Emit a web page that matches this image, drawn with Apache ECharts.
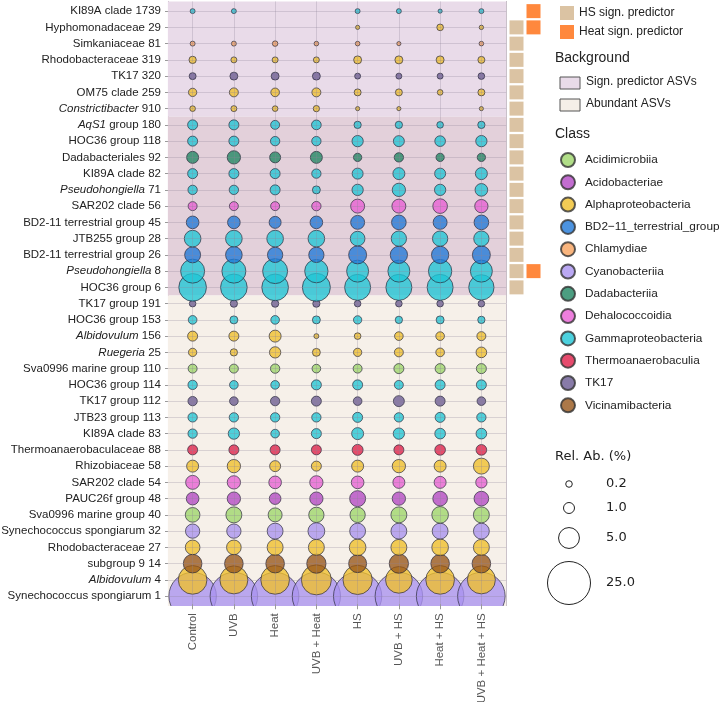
<!DOCTYPE html>
<html>
<head>
<meta charset="utf-8">
<script src="https://cdn.jsdelivr.net/npm/echarts@6/dist/echarts.min.js"></script>
<style>
  html, body { margin: 0; padding: 0; background: #fff; }
  #chart { width: 719px; height: 702px; }
</style>
</head>
<body>
<div id="chart"></div>
<script>
// treatments (x) and ASVs (y, top to bottom)
const treatments = ['Control', 'UVB', 'Heat', 'UVB + Heat', 'HS', 'UVB + HS', 'Heat + HS', 'UVB + Heat + HS'];
const asvs = [
  'KI89A clade 1739', 'Hyphomonadaceae 29', 'Simkaniaceae 81', 'Rhodobacteraceae 319', 'TK17 320',
  'OM75 clade 259', 'Constrictibacter 910', 'AqS1 group 180', 'HOC36 group 118', 'Dadabacteriales 92',
  'KI89A clade 82', 'Pseudohongiella 71', 'SAR202 clade 56', 'BD2-11 terrestrial group 45', 'JTB255 group 28',
  'BD2-11 terrestrial group 26', 'Pseudohongiella 8', 'HOC36 group 6', 'TK17 group 191', 'HOC36 group 153',
  'Albidovulum 156', 'Ruegeria 25', 'Sva0996 marine group 110', 'HOC36 group 114', 'TK17 group 112',
  'JTB23 group 113', 'KI89A clade 83', 'Thermoanaerobaculaceae 88', 'Rhizobiaceae 58', 'SAR202 clade 54',
  'PAUC26f group 48', 'Sva0996 marine group 40', 'Synechococcus spongiarum 32', 'Rhodobacteraceae 27', 'subgroup 9 14',
  'Albidovulum 4', 'Synechococcus spongiarum 1'
];
const italicGenera = ['AqS1', 'Constrictibacter', 'Pseudohongiella', 'Albidovulum', 'Ruegeria'];

const asvClass = [
  'Gammaproteobacteria', 'Alphaproteobacteria', 'Chlamydiae', 'Alphaproteobacteria', 'TK17',
  'Alphaproteobacteria', 'Alphaproteobacteria', 'Gammaproteobacteria', 'Gammaproteobacteria', 'Dadabacteriia',
  'Gammaproteobacteria', 'Gammaproteobacteria', 'Dehalococcoidia', 'BD2\u221211_terrestrial_group', 'Gammaproteobacteria',
  'BD2\u221211_terrestrial_group', 'Gammaproteobacteria', 'Gammaproteobacteria', 'TK17', 'Gammaproteobacteria',
  'Alphaproteobacteria', 'Alphaproteobacteria', 'Acidimicrobiia', 'Gammaproteobacteria', 'TK17',
  'Gammaproteobacteria', 'Gammaproteobacteria', 'Thermoanaerobaculia', 'Alphaproteobacteria', 'Dehalococcoidia',
  'Acidobacteriae', 'Acidimicrobiia', 'Cyanobacteriia', 'Alphaproteobacteria', 'Vicinamibacteria',
  'Alphaproteobacteria', 'Cyanobacteriia'
];

const classNames = ['Acidimicrobiia', 'Acidobacteriae', 'Alphaproteobacteria', 'BD2\u221211_terrestrial_group', 'Chlamydiae',
  'Cyanobacteriia', 'Dadabacteriia', 'Dehalococcoidia', 'Gammaproteobacteria', 'Thermoanaerobaculia', 'TK17', 'Vicinamibacteria'];
const classColors = ['#9ed66a', '#b348c4', '#f0bf2a', '#1f78d8', '#f7a25e',
  '#a992f0', '#1f8662', '#e85fd4', '#1fc6d6', '#e01e48', '#6a5a92', '#97561a'];

// relative abundance (%) per treatment, rows in asvs order; null = absent
const abControl = [0.06, null, 0.06, 0.29, 0.25, 0.44, 0.11, 0.77, 0.77, 1.27, 0.77, 0.63, 0.56, 1.46, 2.92, 2.64, 6.9, 9.5, 0.21, 0.5, 0.77, 0.44, 0.56, 0.63, 0.63, 0.63, 0.63, 0.77, 1.27, 1.89, 1.46, 2.13, 2.0, 2.13, 3.84, 10.3, 31];
const abUVB = [0.06, null, 0.06, 0.14, 0.39, 0.56, 0.14, 0.77, 0.77, 1.67, 0.77, 0.63, 0.56, 1.46, 2.92, 2.92, 6.9, 8.75, 0.29, 0.39, 0.77, 0.29, 0.56, 0.5, 0.5, 0.63, 1.08, 0.77, 1.67, 1.67, 1.67, 2.64, 2.0, 2.13, 3.84, 9.77, 31];
const abHeat = [null, null, 0.1, 0.14, 0.39, 0.5, 0.11, 0.56, 0.63, 1.0, 0.77, 0.77, 0.56, 1.27, 2.92, 2.38, 7.56, 8.75, 0.29, 0.5, 1.27, 1.08, 0.63, 0.5, 0.63, 0.63, 0.5, 0.77, 1.0, 1.46, 1.17, 1.89, 2.6, 2.64, 3.84, 10.3, 31];
const abUVBHeat = [null, null, 0.04, 0.14, 0.39, 0.56, 0.17, 0.7, 0.63, 1.27, 0.63, 0.39, 0.63, 1.46, 2.92, 2.38, 6.47, 9.77, 0.29, 0.39, 0.06, 0.39, 0.5, 0.77, 0.77, 0.63, 0.77, 0.77, 0.77, 1.67, 1.67, 2.38, 3.0, 2.64, 4.17, 11.4, 32];
const abHS = [0.06, 0.02, 0.04, 0.39, 0.14, 0.25, 0.02, 0.29, 1.08, 0.44, 1.0, 1.08, 1.89, 1.89, 2.13, 3.52, 5.64, 8.27, 0.21, 0.44, 0.21, 0.44, 0.56, 0.77, 0.5, 0.77, 1.27, 1.0, 1.27, 1.46, 2.64, 2.38, 2.6, 2.92, 3.52, 10.8, 32];
const abUVBHS = [0.06, null, 0.02, 0.39, 0.14, 0.25, 0.02, 0.29, 1.0, 0.63, 1.27, 1.67, 1.89, 2.13, 2.38, 3.2, 5.64, 8.27, 0.21, 0.29, 0.5, 0.56, 0.77, 0.56, 1.0, 0.63, 1.08, 0.77, 1.67, 1.27, 1.67, 2.64, 2.6, 2.64, 4.17, 8.75, 31];
const abHeatHS = [0.02, 0.21, null, 0.39, 0.14, 0.11, null, 0.21, 0.92, 0.44, 1.0, 1.08, 2.13, 1.89, 2.38, 3.2, 6.47, 8.27, 0.21, 0.39, 0.5, 0.5, 0.77, 0.77, 0.77, 0.77, 0.92, 0.92, 1.27, 1.27, 2.13, 2.92, 2.6, 2.92, 3.84, 10.3, 31];
const abUVBHeatHS = [0.06, 0.03, 0.04, 0.25, 0.21, 0.25, 0.02, 0.29, 1.08, 0.44, 1.27, 1.46, 1.67, 2.13, 2.38, 3.52, 5.64, 7.8, 0.21, 0.29, 0.56, 0.92, 0.77, 0.77, 0.5, 0.63, 0.92, 0.92, 2.64, 1.08, 2.13, 2.64, 2.6, 2.64, 3.84, 9.77, 31];
const abundance = [abControl, abUVB, abHeat, abUVBHeat, abHS, abUVBHS, abHeatHS, abUVBHeatHS];

// significant predictor flags
const hsPredictors = asvs.slice(1, 18);
const heatPredictors = ['KI89A clade 1739', 'Hyphomonadaceae 29', 'Pseudohongiella 8'];

const sizeLegendValues = [0.2, 1.0, 5.0, 25.0];

function bubble(v) { return 3 + 8 * Math.sqrt(v); }

// points drawn bottom row first so upper rows sit on top
const points = [];
for (let r = asvs.length - 1; r >= 0; r--) {
  for (let c = 0; c < treatments.length; c++) {
    const v = abundance[c][r];
    if (v == null) continue;
    const col = classColors[classNames.indexOf(asvClass[r])];
    points.push({ value: [c, r, v], itemStyle: { color: col } });
  }
}

const S = 16.25, BAND = 41.25, T = 3, L = 172;
const panelBottom = T - 0.1 * S + 37.2 * S;

const option = {
  animation: false,
  textStyle: { fontFamily: 'Liberation Sans, Arial, sans-serif' },
  grid: [
    { left: L, top: T, width: 8 * BAND, height: 37 * S, outerBoundsMode: 'none' },
    { left: L - 0.1 * BAND, top: T - 0.1 * S, width: 8.2 * BAND, height: 37.2 * S, outerBoundsMode: 'none' },
    { left: 508, top: T, width: 34, height: 37 * S, outerBoundsMode: 'none' }
  ],
  xAxis: [
    {
      type: 'category', gridIndex: 0, data: treatments, z: 10,
      axisLine: { show: false },
      axisTick: { show: true, length: 5, alignWithLabel: true, lineStyle: { color: '#999' } },
      axisLabel: { rotate: 90, color: '#555', fontSize: 11.5, margin: 9 }
    },
    { type: 'value', gridIndex: 1, min: 0.4, max: 8.6, show: false },
    { type: 'category', gridIndex: 2, data: ['HS', 'Heat'], show: false }
  ],
  yAxis: [
    {
      type: 'category', gridIndex: 0, data: asvs, inverse: true,
      axisLine: { show: false },
      axisTick: { show: true, length: 7, alignWithLabel: true, lineStyle: { color: '#999' } },
      axisLabel: {
        color: '#222', fontSize: 11.5, margin: 11,
        formatter: function (name) {
          const first = name.split(' ')[0];
          if (italicGenera.indexOf(first) >= 0) return '{i|' + first + '}' + name.slice(first.length);
          return name;
        },
        rich: { i: { fontStyle: 'italic', fontSize: 11.5, color: '#222' } }
      }
    },
    {
      type: 'value', gridIndex: 1, min: 0.4, max: 37.6, inverse: true, position: 'left',
      axisLine: { show: true, lineStyle: { color: '#c4bcc4', width: 1 } },
      axisTick: { show: false }, axisLabel: { show: false }, splitLine: { show: false }
    },
    {
      type: 'value', gridIndex: 1, min: 0.4, max: 37.6, inverse: true, position: 'right',
      axisLine: { show: true, lineStyle: { color: '#c4bcc4', width: 1 } },
      axisTick: { show: false }, axisLabel: { show: false }, splitLine: { show: false }
    },
    { type: 'category', gridIndex: 2, data: asvs, inverse: true, show: false }
  ],
  legend: [
    {
      data: ['HS sign. predictor', 'Heat sign. predictor'],
      orient: 'vertical', left: 555, top: 1, itemWidth: 14, itemHeight: 14, itemGap: 5,
      icon: 'rect', selectedMode: false, textStyle: { fontSize: 12, color: '#222' }
    },
    {
      data: classNames,
      orient: 'vertical', left: 555, top: 147, itemWidth: 14, itemHeight: 14, itemGap: 6.3,
      icon: 'circle', selectedMode: false,
      textStyle: { fontSize: 11.8, color: '#222', padding: [0, 0, 0, 5] }
    }
  ],
  graphic: [
    // panel clipping strip below the plot (bubbles are cut at the panel edge)
    { type: 'rect', z: 5, silent: true, shape: { x: 150, y: panelBottom, width: 360, height: 702 - panelBottom }, style: { fill: '#fff' } },
    { type: 'text', left: 555, top: 51, style: { text: 'Background', fontSize: 14, fill: '#222', fontFamily: 'Liberation Sans' } },
    { type: 'rect', shape: { x: 560, y: 77, width: 20, height: 12 }, style: { fill: '#e9dbe9', stroke: '#555', lineWidth: 1 } },
    { type: 'text', left: 586, top: 76, style: { text: 'Sign. predictor ASVs', fontSize: 12, fill: '#222', fontFamily: 'Liberation Sans' } },
    { type: 'rect', shape: { x: 560, y: 99, width: 20, height: 12 }, style: { fill: '#f5efe8', stroke: '#555', lineWidth: 1 } },
    { type: 'text', left: 586, top: 98, style: { text: 'Abundant ASVs', fontSize: 12, fill: '#222', fontFamily: 'Liberation Sans' } },
    { type: 'text', left: 555, top: 127, style: { text: 'Class', fontSize: 14, fill: '#222', fontFamily: 'Liberation Sans' } },
    { type: 'text', left: 555, top: 450, style: { text: 'Rel. Ab. (%)', fontSize: 13, fill: '#222', fontFamily: 'DejaVu Sans' } }
  ].concat(sizeLegendValues.map(function (v, i) {
    const cy = [484, 508, 538, 583][i];
    return { type: 'circle', shape: { cx: 569, cy: cy, r: bubble(v) / 2 }, style: { fill: '#fff', stroke: '#222', lineWidth: 1 } };
  })).concat(sizeLegendValues.map(function (v, i) {
    const cy = [484, 508, 538, 583][i];
    return { type: 'text', x: 606, y: cy, style: { text: v.toFixed(1), fontSize: 13, fill: '#222', fontFamily: 'DejaVu Sans', verticalAlign: 'middle' } };
  })),
  series: [
    {
      // background panels and grid lines
      type: 'scatter', xAxisIndex: 1, yAxisIndex: 1, data: [], silent: true, z: 1,
      markArea: {
        silent: true,
        data: [
          [{ yAxis: 0.4, itemStyle: { color: '#e9dbe9' } }, { yAxis: 7.5 }],
          [{ yAxis: 7.5, itemStyle: { color: '#e3d0da' } }, { yAxis: 18.5 }],
          [{ yAxis: 18.5, itemStyle: { color: '#f6f0e9' } }, { yAxis: 37.6 }]
        ]
      },
      markLine: {
        silent: true, symbol: 'none', label: { show: false },
        lineStyle: { color: 'rgba(140,130,150,0.28)', width: 1, type: 'solid' },
        data: asvs.map(function (a, i) { return { yAxis: i + 1 }; })
          .concat(treatments.map(function (t, i) { return { xAxis: i + 1 }; }))
      }
    },
    {
      name: 'abundance', type: 'scatter', xAxisIndex: 0, yAxisIndex: 0, z: 3,
      data: points,
      symbolSize: function (d) { return bubble(d[2]); },
      itemStyle: { opacity: 0.78, borderColor: '#2b2b3b', borderWidth: 0.9 }
    },
    {
      name: 'HS sign. predictor', type: 'scatter', xAxisIndex: 2, yAxisIndex: 3,
      symbol: 'rect', symbolSize: 14, itemStyle: { color: '#d2b48c' },
      data: hsPredictors.map(function (a) { return ['HS', a]; })
    },
    {
      name: 'Heat sign. predictor', type: 'scatter', xAxisIndex: 2, yAxisIndex: 3,
      symbol: 'rect', symbolSize: 14, itemStyle: { color: '#ff6a0d' },
      data: heatPredictors.map(function (a) { return ['Heat', a]; })
    }
  ].concat(classNames.map(function (n, i) {
    return {
      name: n, type: 'scatter', xAxisIndex: 0, yAxisIndex: 0, data: [],
      itemStyle: { color: classColors[i], borderColor: '#333', borderWidth: 1 }
    };
  }))
};

const chart = echarts.init(document.getElementById('chart'));
chart.setOption(option);
</script>
</body>
</html>
